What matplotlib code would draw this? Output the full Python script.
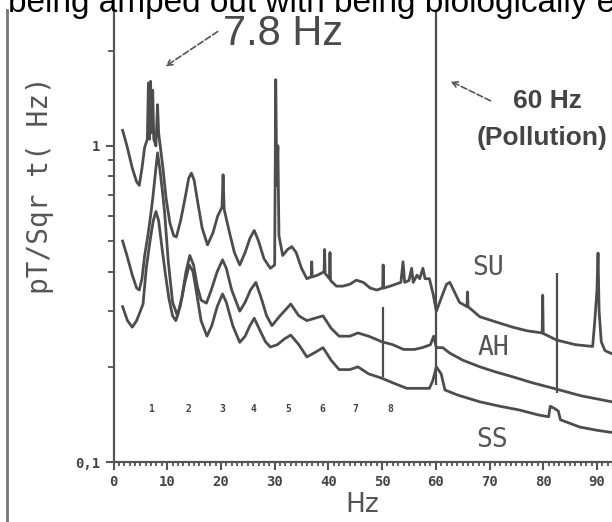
import numpy as np
import matplotlib.pyplot as plt
from matplotlib.ticker import FixedLocator, FixedFormatter, MultipleLocator, NullFormatter

# Schumann resonance spectra, three stations
su_freq = [1.7, 2.5, 3.5, 4.3, 4.8, 5.3, 5.8, 6.3, 6.5, 6.7, 6.9, 7.1, 7.3, 7.5, 7.9, 8.2, 8.4, 8.7,
           9.2, 9.8, 10.5, 11.2, 11.7, 12.5, 13.3, 14.0, 14.5, 15.0, 15.7, 16.5, 17.5, 18.5, 19.4,
           20.2, 20.4, 20.6, 21.5, 22.5, 23.5, 24.5, 25.4, 26.2, 27.0, 28.0, 29.2, 30.0, 30.2, 30.4,
           30.6, 30.8, 31.5, 32.4, 33.2, 34.0, 35.0, 36.0, 36.8, 36.9, 37.0, 38.0, 39.2, 39.3, 39.4,
           40.2, 40.3, 40.4, 41.5, 42.7, 44.0, 45.2, 46.5, 47.8, 49.0, 50.1, 50.2, 50.3, 51.5, 52.5,
           53.5, 53.9, 54.2, 55.0, 55.5, 55.8, 56.5, 57.0, 57.6, 58.0, 58.8, 59.5, 60.1, 61.3, 62.0,
           62.6, 63.3, 64.4, 65.8, 65.9, 66.0, 68.2, 71.0, 74.3, 77.0, 79.8, 79.9, 80.0, 82.5, 86.0,
           89.2, 89.6, 90.0, 90.2, 90.4, 90.8, 91.5, 92.8]
su_amp = [1.12, 1.0, 0.85, 0.77, 0.75, 0.85, 0.99, 1.05, 1.58, 1.05, 1.6, 1.1, 1.5, 1.05, 1.0, 1.35, 1.1, 1.0,
          0.85, 0.68, 0.57, 0.52, 0.515, 0.58, 0.68, 0.79, 0.82, 0.78, 0.66, 0.55, 0.486, 0.53, 0.6,
          0.64, 0.81, 0.63, 0.54, 0.46, 0.42, 0.46, 0.51, 0.54, 0.5, 0.44, 0.41, 0.42, 1.62, 0.75,
          1.0, 0.52, 0.45, 0.47, 0.48, 0.46, 0.41, 0.38, 0.385, 0.43, 0.385, 0.39, 0.40, 0.47, 0.395,
          0.38, 0.46, 0.375, 0.36, 0.36, 0.365, 0.376, 0.37, 0.355, 0.35, 0.355, 0.42, 0.355, 0.36, 0.365,
          0.37, 0.43, 0.37, 0.375, 0.41, 0.37, 0.39, 0.38, 0.41, 0.38, 0.38, 0.34, 0.30, 0.34, 0.365,
          0.37, 0.35, 0.32, 0.31, 0.345, 0.31, 0.288, 0.278, 0.267, 0.26, 0.256, 0.337, 0.255, 0.243, 0.235,
          0.232, 0.28, 0.35, 0.458, 0.3, 0.24, 0.225, 0.22]

ah_freq = [1.7, 2.5, 3.5, 4.3, 4.8, 5.3, 5.8, 6.4, 6.9, 7.3, 7.8, 8.2, 8.6, 9.1, 9.5, 10.2, 11.0, 11.9,
           12.7, 13.5, 14.2, 14.9, 15.6, 16.3, 17.3, 18.2, 19.3, 20.3, 21.0, 22.0, 23.5, 24.5, 25.5,
           26.5, 27.5, 28.5, 29.5, 31.0, 33.0, 34.5, 36.0, 37.5, 39.0, 40.5, 42.0, 44.0, 45.5, 47.5,
           50.0, 52.0, 54.0, 56.0, 57.5, 59.0, 59.6, 60.1, 61.3, 62.6, 65.0, 68.2, 71.0, 74.3, 78.0,
           82.5, 87.0, 92.8]
ah_amp = [0.50, 0.45, 0.39, 0.355, 0.35, 0.38, 0.45, 0.52, 0.6, 0.68, 0.82, 0.95, 0.85, 0.72, 0.62, 0.43, 0.32, 0.29,
          0.33, 0.4, 0.45, 0.42, 0.36, 0.325, 0.318, 0.35, 0.4, 0.436, 0.41, 0.35, 0.30, 0.32, 0.35,
          0.37, 0.33, 0.29, 0.27, 0.29, 0.316, 0.29, 0.28, 0.285, 0.29, 0.265, 0.25, 0.25, 0.256, 0.25,
          0.24, 0.235, 0.227, 0.227, 0.23, 0.235, 0.25, 0.23, 0.23, 0.221, 0.21, 0.20, 0.193, 0.186, 0.178,
          0.17, 0.162, 0.155]

ss_freq = [1.7, 2.6, 3.5, 4.3, 5.0, 5.5, 6.1, 6.8, 7.4, 7.9, 8.4, 9.0, 9.6, 10.3, 11.0, 11.6, 12.4, 13.3,
           14.1, 14.8, 15.5, 16.3, 17.4, 18.3, 19.3, 20.3, 21.0, 22.2, 23.5, 24.5, 25.4, 26.2, 27.3,
           28.3, 29.2, 30.5, 31.8, 33.0, 34.5, 36.0, 37.5, 39.0, 40.5, 42.0, 44.0, 45.5, 47.5, 50.0,
           52.0, 54.6, 56.5, 58.8, 59.4, 60.1, 61.0, 61.7, 64.0, 68.2, 72.0, 75.6, 79.0, 81.0, 81.3,
           82.0, 82.8, 83.2, 86.8, 90.0, 92.8]
ss_amp = [0.31, 0.28, 0.267, 0.28, 0.3, 0.316, 0.41, 0.50, 0.58, 0.62, 0.58, 0.48, 0.4, 0.33, 0.29, 0.28, 0.31, 0.37,
          0.42, 0.4, 0.34, 0.28, 0.25, 0.27, 0.31, 0.34, 0.32, 0.27, 0.239, 0.25, 0.27, 0.285, 0.26,
          0.24, 0.231, 0.235, 0.245, 0.252, 0.235, 0.215, 0.222, 0.23, 0.21, 0.196, 0.196, 0.20, 0.19, 0.184,
          0.178, 0.171, 0.171, 0.171, 0.18, 0.2, 0.19, 0.169, 0.163, 0.155, 0.15, 0.146, 0.141, 0.139, 0.15,
          0.148, 0.145, 0.136, 0.129, 0.126, 0.124]

# vertical marker lines (50 Hz, 60 Hz mains, 82.5 Hz)
mark_freq = [50.2, 60.1, 82.5]
mark_lo = [0.186, 0.175, 0.165]
mark_hi = [0.31, 2.69, 0.396]

mode_freq = [7.0, 13.9, 20.2, 26.0, 32.5, 38.8, 45.0, 51.5]
mode_text = ['1', '2', '3', '4', '5', '6', '7', '8']

xticks = [0, 10, 20, 30, 40, 50, 60, 70, 80, 90]
yticks = [0.1, 1]
ytick_labels = ['0,1', '1']
yminor = [0.2, 0.3, 0.4, 0.5, 0.6, 0.7, 0.8, 0.9, 2]

W, H = 612, 522
fig = plt.figure(figsize=(W / 100, H / 100), dpi=100)
fig.patch.set_facecolor('white')

def fx(px):
    return px / W

def fy(py):
    return 1 - py / H

grey = '#4d4d4d'

ax = fig.add_axes([fx(113.5), fy(462), fx(612) - fx(113.5), fy(10) - fy(462)])
ax.set_yscale('log')
ax.set_xlim(0, 92.8)
ax.set_ylim(0.1, 2.69)

for s in ['top', 'right']:
    ax.spines[s].set_visible(False)
for s in ['left', 'bottom']:
    ax.spines[s].set_color('#555555')
    ax.spines[s].set_linewidth(1.6)

ax.plot(su_freq, su_amp, color=grey, lw=2.0)
ax.plot(ah_freq, ah_amp, color=grey, lw=2.0)
ax.plot(ss_freq, ss_amp, color=grey, lw=2.0)
ax.vlines(mark_freq, mark_lo, mark_hi, color=grey, lw=1.6)

for f, t in zip(mode_freq, mode_text):
    ax.text(f, 0.147, t, fontsize=7, fontweight='bold', family='DejaVu Sans Mono',
            color='#444444', ha='center', va='center')

lab = dict(fontsize=19, family='DejaVu Sans Mono', color='#555555', ha='center', va='center')
ax.text(69.7, 0.411, 'SU', **lab)
ax.text(70.7, 0.229, 'AH', **lab)
ax.text(70.5, 0.117, 'SS', **lab)

ax.xaxis.set_major_locator(FixedLocator(xticks))
ax.xaxis.set_minor_locator(MultipleLocator(1))
ax.yaxis.set_major_locator(FixedLocator(yticks))
ax.yaxis.set_major_formatter(FixedFormatter(ytick_labels))
ax.yaxis.set_minor_locator(FixedLocator(yminor))
ax.yaxis.set_minor_formatter(NullFormatter())
ax.tick_params(which='major', direction='out', length=6, width=1.5, color='#555555',
               labelcolor='#444444', labelsize=10)
ax.tick_params(which='minor', direction='out', length=4, width=1.3, color='#555555')
ax.tick_params(axis='x', which='minor', length=3)
for t in ax.get_xticklabels() + ax.get_yticklabels():
    t.set_family('DejaVu Sans Mono')
    t.set_fontweight('bold')

ax.set_xlabel('Hz', fontsize=19, color='#555555', labelpad=2)

fig.text(fx(40), fy(185), 'pT/Sqr t( Hz)', rotation=90, fontsize=20,
         family='DejaVu Sans Mono', color='#555555', ha='center', va='center')

# annotations
fig.text(fx(223), fy(45), '7.8 Hz', fontsize=30, family='Liberation Sans',
         color='#4a4a4a', ha='left', va='baseline')
ax.annotate('', xy=(fx(163), fy(68)), xycoords='figure fraction',
            xytext=(fx(220), fy(30)), textcoords='figure fraction',
            arrowprops=dict(arrowstyle='->', color='#555555', lw=1.2, ls='--'))
fig.text(fx(513), fy(101), '60 Hz', fontsize=19, family='Liberation Sans',
         fontweight='bold', color='#444444', ha='left', va='center')
fig.text(fx(477), fy(138), '(Pollution)', fontsize=19, family='Liberation Sans',
         fontweight='bold', color='#444444', ha='left', va='center')
ax.annotate('', xy=(fx(448), fy(80)), xycoords='figure fraction',
            xytext=(fx(493), fy(102)), textcoords='figure fraction',
            arrowprops=dict(arrowstyle='->', color='#555555', lw=1.2, ls='--'))

# page fragments around the scanned figure
fig.text(fx(8), fy(12), 'being amped out with being biologically en', fontsize=24,
         family='Liberation Sans', color='black', ha='left', va='baseline')
fig.add_artist(plt.Line2D([fx(7), fx(7)], [0, fy(10)], color='#777777', lw=2))

fig.savefig('out.png', dpi=100)
